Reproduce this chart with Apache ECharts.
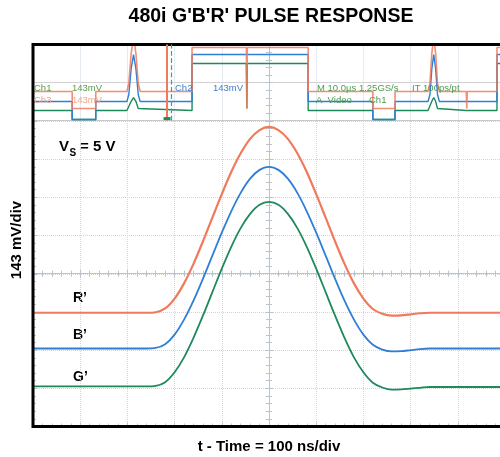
<!DOCTYPE html>
<html><head><meta charset="utf-8">
<script src="https://cdn.jsdelivr.net/npm/echarts@6/dist/echarts.min.js"></script>
<style>html,body{margin:0;padding:0;background:#fff}#c{width:500px;height:457px}</style>
</head><body><div id="c"></div>
<script>
// ---- text ----
const titleText = "480i G'B'R' PULSE RESPONSE";
const xAxisTitle = 't - Time = 100 ns/div';
const yAxisTitle = '143 mV/div';
const traceNames = ['R\u2019', 'B\u2019', 'G\u2019'];

// ---- main traces: time in ns (0 = screen centre), values in mV (143 mV/div) ----
const timeNs = [-500,-480,-460,-440,-420,-400,-380,-360,-340,-320,-300,-280,-260,-240,-220,-200,-180,-160,-140,-120,-100,-80,-60,-40,-20,0,20,40,60,80,100,120,140,160,180,200,220,240,260,280,300,320,340,360,380,400,420,440,460,480,500];
const rPrime = [-146,-146,-146,-146,-146,-146,-146,-146,-146,-146,-146,-146,-146,-144,-130,-93,-36,37,121,210,298,381,451,505,538,550,538,505,451,381,298,210,121,37,-36,-93,-132,-150,-157,-156,-152,-148,-146,-146,-146,-146,-146,-146,-146,-146,-146];
const bPrime = [-280,-280,-280,-280,-280,-280,-280,-280,-280,-280,-280,-280,-280,-278,-264,-228,-172,-101,-19,68,154,234,303,356,389,400,389,356,303,234,154,68,-19,-101,-172,-228,-266,-284,-291,-290,-286,-282,-280,-280,-280,-280,-280,-280,-280,-280,-280];
const gPrime = [-422,-422,-422,-422,-422,-422,-422,-422,-422,-422,-422,-422,-422,-420,-406,-369,-313,-240,-157,-69,19,101,171,224,258,269,258,224,171,101,19,-69,-157,-240,-313,-369,-408,-426,-434,-433,-430,-427,-424,-424,-424,-424,-424,-424,-424,-424,-424];

// ---- overview strip: time in µs, values in strip divisions ----
const stripTimeUs = [0,8.3,8.3,13.3,13.3,19.9,20.3,20.8,21.3,21.8,22.3,22.7,33.7,33.7,45.2,45.3,45.4,58.3,58.3,72.0,72.0,76.7,76.7,83.7,84.1,84.5,84.9,85.3,85.7,86.1,91.8,91.9,92.0,98.3,98.3,100];
const stripR = [1.53,1.53,0.63,0.63,1.53,1.53,1.96,3.54,4.4,3.54,1.96,1.53,1.53,3.84,3.84,0.63,3.84,3.84,1.53,1.53,0.63,0.63,1.53,1.53,1.96,3.54,4.4,3.54,1.96,1.53,1.53,0.63,1.53,1.53,3.84,3.84];
const stripB = [1.0,1.0,0.05,0.05,1.0,1.0,1.37,2.73,3.47,2.73,1.37,1.0,1.0,3.47,3.47,3.47,3.47,3.47,1.0,1.0,0.05,0.05,1.0,1.0,1.37,2.73,3.47,2.73,1.37,1.0,1.0,1.0,1.0,1.0,3.47,3.47];
const stripG = [0.53,0.53,0.05,0.05,0.53,0.53,0.63,1.01,1.21,1.01,0.63,0.53,0.53,3.0,3.0,0.63,3.0,3.0,0.53,0.53,0.05,0.05,0.53,0.53,0.63,1.01,1.21,1.01,0.63,0.53,0.53,0.53,0.53,0.53,3.0,3.0];
const triggerUs = 28.4;
const triggerCursorUs = 29.2;

// scope read-out texts in the strip
const readoutTexts = ['Ch1', '143mV', 'Ch3', '143mV', 'Ch2', '143mV', 'M 10.0\u00b5s 1.25GS/s', 'IT 100ps/pt', 'A  Video', 'Ch1'];

const colR = '#f07a5c', colB = '#2f7fd6', colG = '#1e8a5c';
const font = "'Liberation Sans', Arial, sans-serif";

const left = 33, gridWidth = 472, frameTop = 44.5, frameBottom = 30.5;
const gridColor = '#cdd6e4';
const centerColor = '#b9c4d2';

function pairs(xs, ys) { return xs.map((x, i) => [x, ys[i]]); }

const chart = echarts.init(document.getElementById('c'), null, {renderer: 'canvas'});

const hiddenAxis = {show: false};
function centerAxisX(grid, inside) {
  return {type: 'value', gridIndex: grid, min: -500, max: 500, interval: 100,
    axisLine: {show: true, onZero: true, lineStyle: {color: centerColor, width: 1}},
    axisTick: {show: true, inside: inside, length: 4, lineStyle: {color: centerColor}},
    minorTick: {show: true, splitNumber: 5, length: 3, lineStyle: {color: centerColor}},
    axisLabel: {show: false}, splitLine: {show: false}};
}
function centerAxisY(grid, inside) {
  return {type: 'value', gridIndex: grid, min: -572, max: 858, interval: 143,
    axisLine: {show: true, onZero: true, lineStyle: {color: centerColor, width: 1}},
    axisTick: {show: true, inside: inside, length: 4, lineStyle: {color: centerColor}},
    minorTick: {show: true, splitNumber: 5, length: 3, lineStyle: {color: centerColor}},
    axisLabel: {show: false}, splitLine: {show: false}};
}

const readoutPos = [
  [34, 88, '#5f9a4c'], [72, 88, '#5f9a4c'], [34, 100, '#f4a58a'], [72, 100, '#f4a58a'],
  [175, 88, '#3a7fd0'], [213, 88, '#3a7fd0'], [317, 88, '#4f9a52'], [412, 88, '#4f9a52'],
  [316, 100, '#4f9a52'], [369, 100, '#4f9a52']
];

const graphics = [
  {type: 'text', x: 271, y: 17, style: {text: titleText, font: 'bold 19.5px ' + font, fill: '#000', textAlign: 'center', textVerticalAlign: 'middle'}},
  {type: 'text', x: 269, y: 447, style: {text: xAxisTitle, font: 'bold 15px ' + font, fill: '#000', textAlign: 'center', textVerticalAlign: 'middle'}},
  {type: 'text', x: 17, y: 240, rotation: Math.PI / 2, style: {text: yAxisTitle, font: 'bold 15px ' + font, fill: '#000', textAlign: 'center', textVerticalAlign: 'middle'}},
  {type: 'text', x: 59, y: 147, style: {text: 'V', font: 'bold 15px ' + font, fill: '#000', textVerticalAlign: 'middle'}},
  {type: 'text', x: 69.5, y: 153, style: {text: 'S', font: 'bold 10px ' + font, fill: '#000', textVerticalAlign: 'middle'}},
  {type: 'text', x: 80, y: 147, style: {text: '= 5 V', font: 'bold 15px ' + font, fill: '#000', textVerticalAlign: 'middle'}},
  {type: 'text', x: 73, y: 298, style: {text: traceNames[0], font: 'bold 14px ' + font, fill: '#000', textVerticalAlign: 'middle'}},
  {type: 'text', x: 73, y: 335, style: {text: traceNames[1], font: 'bold 14px ' + font, fill: '#000', textVerticalAlign: 'middle'}},
  {type: 'text', x: 73, y: 377, style: {text: traceNames[2], font: 'bold 14px ' + font, fill: '#000', textVerticalAlign: 'middle'}}
];
readoutTexts.forEach((t, i) => {
  graphics.push({type: 'text', x: readoutPos[i][0], y: readoutPos[i][1], z: 10,
    style: {text: t, font: '9.5px ' + font, fill: readoutPos[i][2], textVerticalAlign: 'middle'}});
});

const gridBase = {left: left, width: gridWidth, outerBoundsMode: 'none', containLabel: false};
const option = {
  animation: false,
  backgroundColor: '#fff',
  grid: [
    // 0: outer frame
    Object.assign({top: frameTop, bottom: frameBottom, show: true, borderColor: '#000', borderWidth: 3, backgroundColor: 'transparent', z: 5}, gridBase),
    // 1: overview strip
    Object.assign({top: frameTop, height: 76}, gridBase),
    // 2: main screen
    Object.assign({top: 121, bottom: frameBottom}, gridBase),
    // 3,4: centre graticule axes (ticks on both sides)
    Object.assign({top: frameTop, bottom: frameBottom}, gridBase),
    Object.assign({top: frameTop, bottom: frameBottom}, gridBase)
  ],
  xAxis: [
    Object.assign({type: 'value', gridIndex: 0, min: 0, max: 1}, hiddenAxis),
    {type: 'value', gridIndex: 1, min: 0, max: 100, interval: 10,
      axisLine: {show: true, onZero: false, lineStyle: {color: '#c9c9c9', width: 1}},
      axisTick: {show: false}, axisLabel: {show: false},
      splitLine: {show: true, lineStyle: {color: gridColor, type: 'dotted', width: 1}}},
    {type: 'value', gridIndex: 2, min: -500, max: 500, interval: 100,
      axisLine: {show: false, onZero: false},
      axisTick: {show: true, inside: true, length: 4, lineStyle: {color: centerColor}},
      minorTick: {show: true, splitNumber: 5, length: 3, lineStyle: {color: centerColor}},
      axisLabel: {show: false},
      splitLine: {show: true, lineStyle: {color: gridColor, type: 'dotted', width: 1}}},
    centerAxisX(3, true),
    centerAxisX(4, false)
  ],
  yAxis: [
    Object.assign({type: 'value', gridIndex: 0, min: 0, max: 1}, hiddenAxis),
    {type: 'value', gridIndex: 1, min: 0, max: 4, interval: 2,
      axisLine: {show: false}, axisTick: {show: false}, axisLabel: {show: false},
      splitLine: {show: true, lineStyle: {color: '#d2d2d2', width: 1}}},
    {type: 'value', gridIndex: 2, min: -572, max: 572, interval: 143,
      axisLine: {show: false, onZero: false},
      axisTick: {show: true, inside: true, length: 4, lineStyle: {color: centerColor}},
      minorTick: {show: true, splitNumber: 5, length: 3, lineStyle: {color: centerColor}},
      axisLabel: {show: false},
      splitLine: {show: true, lineStyle: {color: gridColor, type: 'dotted', width: 1}}},
    centerAxisY(3, true),
    centerAxisY(4, false)
  ],
  series: [
    {type: 'line', xAxisIndex: 1, yAxisIndex: 1, data: pairs(stripTimeUs, stripG), showSymbol: false, clip: true,
      lineStyle: {color: colG, width: 1.4}, z: 3},
    {type: 'line', xAxisIndex: 1, yAxisIndex: 1, data: pairs(stripTimeUs, stripB), showSymbol: false, clip: true,
      lineStyle: {color: colB, width: 1.4}, z: 3},
    {type: 'line', xAxisIndex: 1, yAxisIndex: 1, data: pairs(stripTimeUs, stripR), showSymbol: false, clip: true,
      lineStyle: {color: colR, width: 1.6, opacity: 0.85}, z: 3,
      markLine: {silent: true, symbol: 'none', label: {show: false},
        data: [
          {xAxis: triggerUs, lineStyle: {color: colR, width: 2, type: 'solid'}},
          {xAxis: triggerCursorUs, lineStyle: {color: '#2aa89a', width: 1.2, type: 'dashed'}}
        ]},
      markPoint: {silent: true, symbol: 'rect', symbolSize: [7, 3], label: {show: false},
        itemStyle: {color: colG}, data: [{coord: [triggerUs, 0.1]}]}},
    {name: traceNames[2], type: 'line', xAxisIndex: 2, yAxisIndex: 2, data: pairs(timeNs, gPrime), showSymbol: false, clip: true,
      smooth: 0.3, lineStyle: {color: colG, width: 1.8}, z: 4},
    {name: traceNames[1], type: 'line', xAxisIndex: 2, yAxisIndex: 2, data: pairs(timeNs, bPrime), showSymbol: false, clip: true,
      smooth: 0.3, lineStyle: {color: colB, width: 1.8}, z: 4},
    {name: traceNames[0], type: 'line', xAxisIndex: 2, yAxisIndex: 2, data: pairs(timeNs, rPrime), showSymbol: false, clip: true,
      smooth: 0.3, lineStyle: {color: colR, width: 2.2}, z: 4}
  ],
  graphic: graphics
};
chart.setOption(option);
</script>
</body></html>
